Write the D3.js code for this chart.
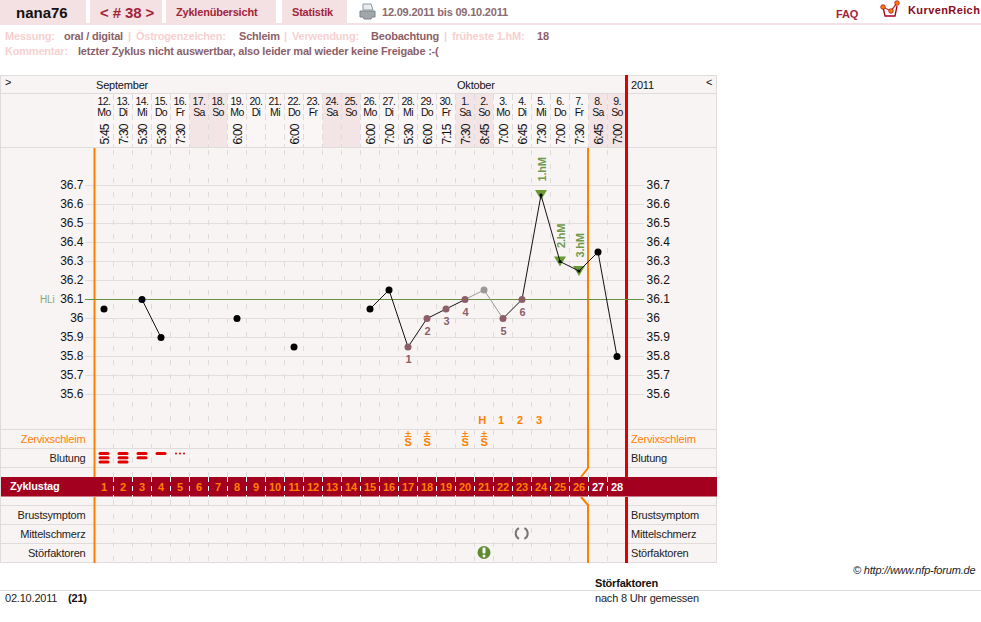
<!DOCTYPE html>
<html>
<head>
<meta charset="utf-8">
<title>nana76 Zyklus 38</title>
<script src="https://cdn.jsdelivr.net/npm/d3@7"></script>
<style>
html,body{margin:0;padding:0;background:#fff;overflow:hidden}
svg{display:block}
text{font-family:"Liberation Sans",Arial,sans-serif;letter-spacing:-.2px}
</style>
</head>
<body>
<svg id="chart" width="981" height="622"></svg>
<script>
// Cycle data, one entry per cycle day
const cycleDays = d3.range(1, 29);
const dayNumbers = ["12.","13.","14.","15.","16.","17.","18.","19.","20.","21.","22.","23.","24.","25.","26.","27.","28.","29.","30.","1.","2.","3.","4.","5.","6.","7.","8.","9."];
const weekdays = ["Mo","Di","Mi","Do","Fr","Sa","So","Mo","Di","Mi","Do","Fr","Sa","So","Mo","Di","Mi","Do","Fr","Sa","So","Mo","Di","Mi","Do","Fr","Sa","So"];
const times = ["5:45","7:30","5:30","5:30","7:30","","","6:00","","","6:00","","","","6:00","7:00","5:30","6:00","7:15","7:30","8:45","7:00","6:45","7:30","7:00","7:30","6:45","7:00"];
const temps = [36.05,null,36.1,35.9,null,null,null,36,null,null,35.85,null,null,null,36.05,36.15,35.85,36,36.05,36.1,36.15,36,36.1,36.65,36.3,36.25,36.35,35.8];
const excludedDays = [21];
const lineSegments = [[3,4],[15,16],[16,17],[17,18],[18,19],[19,20],[22,23],[23,24],[24,25],[25,26],[26,27],[27,28]];
const greySegments = [[20,21],[21,22]];
const lowDays = [17,18,19,20,22,23];
const lowLabels = ["1","2","3","4","5","6"];
const highDays = [24,25,26];
const highLabels = ["1.hM","2.hM","3.hM"];
const tempTicks = [35.6,35.7,35.8,35.9,36,36.1,36.2,36.3,36.4,36.5,36.6,36.7];
const coverLine = 36.1;
const bleeding = [3,3,2,1,"s"];
const mucusDays = [17,18,20,21];
const peakDays = [21,22,23,24];
const peakLabels = ["H","1","2","3"];
const rowLabels = ["Zervixschleim","Blutung","Brustsymptom","Mittelschmerz","Störfaktoren"];
const rowCentres = [439,458,515,534,553];
const rowRules = [429.5,448.5,467.5,505.5,524.5,543.5,562.5];
const infoItems = [["Messung:",5,0],["oral / digital",64,1],["|",128,0],["Östrogenzeichen:",136,0],["Schleim",239,1],["|",284,0],["Verwendung:",292,0],["Beobachtung",371,1],["|",444,0],["früheste 1.hM:",452,0],["18",537,1]];
const tabs = [[0,86],[90,72],[166,110],[282,65]];

const pink = "#f3e1e3", panel = "#f9f4f4", rule = "#e0dcdb", dash = "#dedcda";
const orange = "#ff8000", red = "#e00000", maroon = "#a3001f", mauve = "#8c5f68", green = "#5f8c30";

const svg = d3.select("#chart");
const x = d3.scaleLinear().domain([1, 28]).range([104, 617]);
const y = d3.scaleLinear().domain([36.7, 35.6]).range([185.5, 394.5]);
const colW = x(2) - x(1);
const edge = d => x(d) + colW / 2;

// Page header
const head = svg.append("g");
head.selectAll("rect.tab").data(tabs).join("rect").attr("class", "tab")
  .attr("x", d => d[0]).attr("y", 0).attr("width", d => d[1]).attr("height", 23).attr("fill", pink);
head.append("rect").attr("x", 0).attr("y", 23).attr("width", 981).attr("height", 2).attr("fill", pink);
const headText = (s, tx, ty, size, fill, weight = "bold") => head.append("text").text(s)
  .attr("x", tx).attr("y", ty).attr("font-size", size).attr("fill", fill).attr("font-weight", weight);
headText("nana76", 16, 18, 15, "#111").attr("font-family", "DejaVu Sans").style("letter-spacing", "0");
headText("< # 38 >", 100, 18, 15, "#a3243a").style("letter-spacing", "-.1px");
headText("Zyklenübersicht", 176, 16, 11, "#a3243a");
headText("Statistik", 292, 16, 11, "#a3243a");
headText("12.09.2011 bis 09.10.2011", 382, 16, 11, "#8c6a70");
headText("FAQ", 836, 18, 11, "#a3243a");
headText("KurvenReich", 908, 14, 11, "#8a0a20").attr("font-family", "DejaVu Sans").style("letter-spacing", ".4px");

// Printer icon
const printer = head.append("g").attr("transform", "translate(360,4)");
printer.append("path").attr("d", "M3 0H11L13 6H3Z").attr("fill", "#e8edf2").attr("stroke", "#8f979e");
printer.append("path").attr("d", "M0 7H15V13H12L11 15H4L3 13H0Z").attr("fill", "#a2a7ab").attr("stroke", "#7f858a");

// Site logo
const logo = head.append("g").attr("fill", "none");
logo.append("path").attr("d", "M883 7L885 16H895L897 6").attr("stroke", "#a3001f").attr("stroke-width", 1.3);
logo.append("path").attr("d", "M883 7L891 11L897 3").attr("stroke", "#c0392b").attr("stroke-width", 1.3);
logo.selectAll("circle").data([[883,7],[891,11],[897,3]]).join("circle")
  .attr("cx", d => d[0]).attr("cy", d => d[1]).attr("r", 2.3).attr("fill", orange).attr("stroke", "#a3001f").attr("stroke-width", .7);

// Measurement summary lines
svg.append("g").selectAll("text").data(infoItems).join("text")
  .text(d => d[0]).attr("x", d => d[1]).attr("y", 40).attr("font-size", 11).attr("font-weight", "bold")
  .attr("fill", d => d[2] ? mauve : "#f6d0d1");
svg.append("text").text("Kommentar:").attr("x", 5).attr("y", 55).attr("font-size", 11).attr("font-weight", "bold").attr("fill", "#f6d0d1");
svg.append("text").text("letzter Zyklus nicht auswertbar, also leider mal wieder keine Freigabe :-(")
  .attr("x", 78).attr("y", 55).attr("font-size", 11).attr("font-weight", "bold").attr("fill", mauve);

// Chart panel and calendar cells
svg.append("rect").attr("x", .5).attr("y", 75.5).attr("width", 716).attr("height", 487)
  .attr("fill", panel).attr("stroke", rule);
const cells = svg.append("g");
cells.selectAll("rect").data(cycleDays).join("rect")
  .attr("x", d => x(d) - colW / 2).attr("y", 94).attr("width", colW).attr("height", 54)
  .attr("fill", (d, i) => (weekdays[i] === "Sa" || weekdays[i] === "So") ? "#f3e5e6" : "#fbf6f6");
[93.5, 147.5].forEach(r => svg.append("line").attr("x1", 0).attr("x2", 717).attr("y1", r).attr("y2", r).attr("stroke", rule));

// Temperature gridlines
svg.append("g").selectAll("line").data(tempTicks.filter(t => t !== coverLine)).join("line")
  .attr("x1", 85).attr("x2", 644).attr("y1", d => y(d)).attr("y2", d => y(d))
  .attr("stroke", "#e2dedd").attr("stroke-width", 1);

// Dashed column separators
svg.append("g").attr("stroke", dash).attr("stroke-dasharray", "5 9").selectAll("line").data(cycleDays.slice(0, 27)).join("line")
  .attr("x1", d => edge(d)).attr("x2", d => edge(d)).attr("y1", 150).attr("y2", 563);
svg.append("g").attr("stroke", dash).attr("stroke-dasharray", "6 4").selectAll("line").data(cycleDays.slice(0, 27)).join("line")
  .attr("x1", d => edge(d)).attr("x2", d => edge(d)).attr("y1", 94).attr("y2", 148);

// Row rules
svg.append("g").selectAll("line").data(rowRules).join("line")
  .attr("x1", 0).attr("x2", 717).attr("y1", d => d).attr("y2", d => d).attr("stroke", rule);
svg.append("line").attr("x1", 0).attr("x2", 0).attr("y1", 75).attr("y2", 563).attr("stroke", rule).attr("stroke-width", 2);

// Cycle-day band
svg.append("rect").attr("x", 1).attr("y", 477).attr("width", 716).attr("height", 19.5).attr("fill", maroon);
svg.append("text").text("Zyklustag").attr("x", 10).attr("y", 490).attr("font-size", 11).attr("font-weight", "bold").attr("fill", "#fff");
svg.append("g").attr("stroke", "#fff").attr("stroke-dasharray", "5 4").selectAll("line").data(cycleDays.slice(0, 27)).join("line")
  .attr("x1", d => edge(d)).attr("x2", d => edge(d)).attr("y1", 477).attr("y2", 497);
svg.append("g").selectAll("text").data(cycleDays).join("text").text(d => d)
  .attr("x", d => x(d)).attr("y", 491).attr("text-anchor", "middle").attr("font-size", 11).attr("font-weight", "bold")
  .attr("fill", d => d > 26 ? "#fff" : orange);

// Cycle boundaries
const boundaries = svg.append("g").attr("fill", "none");
boundaries.append("path").attr("d", "M94.5 148V477M94.5 497V563").attr("stroke", orange).attr("stroke-width", 2);
boundaries.append("path").attr("d", "M588 148V468L581 477M581 497L588 505V563").attr("stroke", orange).attr("stroke-width", 2);
boundaries.append("path").attr("d", "M626.5 75V477M626.5 497V563").attr("stroke", red).attr("stroke-width", 3);

// Month and date labels
const label = (s, tx, ty, size = 11, fill = "#111") => svg.append("text").text(s)
  .attr("x", tx).attr("y", ty).attr("font-size", size).attr("fill", fill);
label("September", 96, 89);
label("Oktober", 457, 89);
label("2011", 631, 89);
label(">", 5, 86);
label("<", 706, 86);

const dateCols = svg.append("g").selectAll("g").data(cycleDays).join("g")
  .attr("transform", d => `translate(${x(d)},0)`);
dateCols.append("text").text((d, i) => dayNumbers[i]).attr("y", 104.5).attr("text-anchor", "middle").attr("font-size", 10.5).attr("fill", "#111").style("letter-spacing", "-.6px");
dateCols.append("text").text((d, i) => weekdays[i]).attr("y", 115.5).attr("text-anchor", "middle").attr("font-size", 10.5).attr("fill", "#111").style("letter-spacing", "-.6px");
dateCols.append("text").text((d, i) => times[i]).attr("transform", "translate(4.5,144.5) rotate(-90)").attr("font-size", 12).attr("fill", "#111").style("letter-spacing", "-.8px");

// Temperature axes
const axisFormat = d => d === 36 ? "36" : d3.format(".1f")(d);
const styleAxis = g => {
  g.select(".domain").remove();
  g.selectAll(".tick line").remove();
  g.selectAll("text").attr("font-family", "DejaVu Sans").attr("font-size", 12).attr("fill", "#111").style("letter-spacing", "0");
};
svg.append("g").attr("transform", "translate(83.5,-.5)")
  .call(d3.axisLeft(y).tickValues(tempTicks).tickFormat(axisFormat).tickSize(0).tickPadding(0)).call(styleAxis);
svg.append("g").attr("transform", "translate(646.5,-.5)")
  .call(d3.axisRight(y).tickValues(tempTicks).tickFormat(axisFormat).tickSize(0).tickPadding(0)).call(styleAxis);

// Cover line
svg.append("line").attr("x1", 85).attr("x2", 644).attr("y1", y(coverLine)).attr("y2", y(coverLine)).attr("stroke", "#6a9040");
svg.append("text").text("HLi").attr("x", 40).attr("y", 303).attr("font-size", 10).attr("fill", "#8aa868");

// Temperature curve
const tempOf = d => temps[d - 1];
const drawSegments = (list, colour) => svg.append("g").selectAll("line").data(list).join("line")
  .attr("x1", d => x(d[0])).attr("y1", d => y(tempOf(d[0])))
  .attr("x2", d => x(d[1])).attr("y2", d => y(tempOf(d[1])))
  .attr("stroke", colour).attr("stroke-width", 1);
drawSegments(greySegments, "#999");

svg.append("g").selectAll("path").data(highDays).join("path")
  .attr("d", d => `M${x(d) - 6} ${y(tempOf(d)) - 5}H${x(d) + 6}L${x(d)} ${y(tempOf(d)) + 5}Z`).attr("fill", "#689a35");
drawSegments(lineSegments, "#111");

svg.append("g").selectAll("circle").data(cycleDays.filter(d => tempOf(d) !== null)).join("circle")
  .attr("cx", d => x(d)).attr("cy", d => y(tempOf(d)))
  .attr("r", d => highDays.includes(d) ? 1.6 : 3.5)
  .attr("fill", d => excludedDays.includes(d) ? "#999" : lowDays.includes(d) ? mauve : "#000");

// Low and high temperature labels
svg.append("g").selectAll("text").data(lowDays).join("text").text((d, i) => lowLabels[i])
  .attr("x", d => x(d) + .5).attr("y", d => y(tempOf(d)) + 16)
  .attr("text-anchor", "middle").attr("font-size", 11).attr("font-weight", "bold").attr("fill", mauve);
svg.append("g").selectAll("text").data(highDays).join("text").text((d, i) => highLabels[i])
  .attr("transform", d => `translate(${x(d) + 4.5},${y(tempOf(d)) - 13.5}) rotate(-90)`)
  .attr("font-size", 11).attr("font-weight", "bold").attr("fill", "#6f9a4a");

// Peak-day row
svg.append("g").selectAll("text").data(peakDays).join("text").text((d, i) => peakLabels[i])
  .attr("x", d => x(d) - 2).attr("y", 424).attr("text-anchor", "middle").attr("font-size", 11).attr("font-weight", "bold").attr("fill", orange);

// Side labels for the observation rows
const rows = svg.append("g").selectAll("g").data(rowLabels).join("g");
rows.append("text").text(d => d).attr("x", 85.5).attr("y", (d, i) => rowCentres[i] + 4).attr("text-anchor", "end").attr("font-size", 11)
  .attr("fill", (d, i) => i === 0 ? orange : "#222");
rows.append("text").text(d => d).attr("x", 631).attr("y", (d, i) => rowCentres[i] + 4).attr("font-size", 11)
  .attr("fill", (d, i) => i === 0 ? orange : "#222");

// Cervical mucus marks: plus over a barred S
const mucus = svg.append("g").selectAll("g").data(mucusDays).join("g").attr("transform", d => `translate(${x(d)},0)`);
mucus.append("path").attr("d", "M-2.5 433.5H2.5M0 431V436M-3.5 436.5H3.5").attr("stroke", orange).attr("fill", "none");
mucus.append("text").text("S").attr("y", 446).attr("text-anchor", "middle").attr("font-size", 11).attr("font-weight", "bold").attr("fill", orange);

// Bleeding marks
const bleed = svg.append("g").selectAll("g").data(bleeding).join("g").attr("transform", (d, i) => `translate(${x(i + 1)},0)`);
bleed.each(function(d) {
  const g = d3.select(this);
  if (d === "s") {
    g.selectAll("circle").data([-4, 0, 4]).join("circle").attr("cx", v => v).attr("cy", 453.5).attr("r", 1).attr("fill", red);
  } else {
    g.selectAll("rect").data(d3.range(d)).join("rect")
      .attr("x", -5.5).attr("y", v => 452 + v * 4.2).attr("width", 11).attr("height", 3).attr("rx", 1.5).attr("fill", red);
  }
});

// Mid-cycle pain mark: two opposed arcs
const painX = x(23);
const painArc = d3.arc().innerRadius(5).outerRadius(7);
svg.append("g").attr("transform", `translate(${painX - .3},533.5)`).selectAll("path")
  .data([[Math.PI * 1.15, Math.PI * 1.85], [Math.PI * .15, Math.PI * .85]]).join("path")
  .attr("d", d => painArc({ startAngle: d[0], endAngle: d[1] })).attr("fill", "#777");

// Disturbance mark
const noteX = x(21);
svg.append("circle").attr("cx", noteX).attr("cy", 552.5).attr("r", 6.5).attr("fill", green);
svg.append("rect").attr("x", noteX - 1.5).attr("y", 547.5).attr("width", 3).attr("height", 6).attr("rx", 1).attr("fill", "#fff");
svg.append("circle").attr("cx", noteX).attr("cy", 556).attr("r", 1.5).attr("fill", "#fff");

// Footer
svg.append("line").attr("x1", 0).attr("x2", 981).attr("y1", 590.5).attr("y2", 590.5).attr("stroke", rule);
label("02.10.2011", 5, 602, 11, "#222");
label("(21)", 68, 602, 11, "#111").attr("font-weight", "bold");
label("Störfaktoren", 595, 587, 11, "#111").attr("font-weight", "bold");
label("nach 8 Uhr gemessen", 595, 602, 11, "#222");
label("© http://www.nfp-forum.de", 853, 574, 11, "#222").attr("font-style", "italic");
</script>
</body>
</html>
